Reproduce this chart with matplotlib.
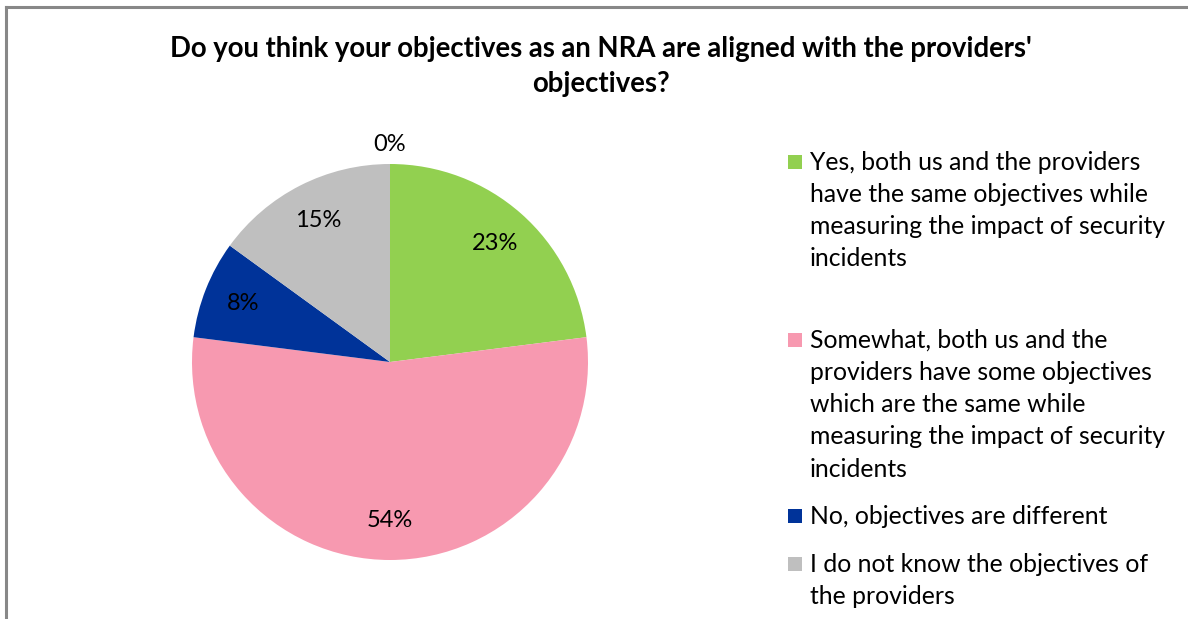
"""Pie chart: alignment of NRA objectives with the providers' objectives."""

import matplotlib
matplotlib.use("Agg")
import matplotlib.pyplot as plt
from matplotlib.patches import Rectangle
import numpy as np

TITLE = "Do you think your objectives as an NRA are aligned with the providers'\nobjectives?"
LABELS = [
    "Yes, both us and the providers\nhave the same objectives while\nmeasuring the impact of security\nincidents",
    "Somewhat, both us and the\nproviders have some objectives\nwhich are the same while\nmeasuring the impact of security\nincidents",
    "No, objectives are different",
    "I do not know the objectives of\nthe providers",
]
SHARES = [23, 54, 8, 15, 0]  # percent; last one has no respondents
COLORS = ["#92D050", "#F799B0", "#003399", "#BFBFBF", "#FFFFFF"]

plt.rcParams["font.family"] = ["Lato", "DejaVu Sans"]

W, H = 1188, 619
fig = plt.figure(figsize=(W / 100, H / 100), dpi=100)

# chart frame (runs off the right and bottom edges)
fig.add_artist(plt.Line2D([6 / W, 6 / W], [0, 1 - 6.5 / H], color="#888888", lw=2.2))
fig.add_artist(plt.Line2D([6 / W, 1], [1 - 6.5 / H, 1 - 6.5 / H], color="#888888", lw=2.2))

fig.text(601 / W, 1 - 66.5 / H, TITLE, ha="center", va="center", fontsize=19.8,
         fontweight="bold", linespacing=1.4)

# pie: centre (390, 362) px, radius 198 px
cx, cy, r = 390, 362, 198
ax = fig.add_axes([(cx - r) / W, 1 - (cy + r) / H, 2 * r / W, 2 * r / H])
wedges, _ = ax.pie(SHARES, colors=COLORS, startangle=90, counterclock=False,
                   radius=1.0, wedgeprops=dict(linewidth=0))
ax.set_xlim(-1, 1)
ax.set_ylim(-1, 1)
ax.set_aspect("equal")
ax.axis("off")

for w, v in zip(wedges, SHARES):
    mid = np.deg2rad((w.theta1 + w.theta2) / 2)
    d = 0.8 if v > 0 else 1.1
    ax.text(d * np.cos(mid), d * np.sin(mid), f"{v}%", ha="center", va="center",
            fontsize=17, color="black", clip_on=False)

# legend drawn entry by entry
entry_tops = [162, 340, 516, 564]
line_h = 32.3
for lab, col, y0 in zip(LABELS, COLORS, entry_tops):
    fig.add_artist(Rectangle((788 / W, 1 - (y0 + 7) / H), 14 / W, 14 / H,
                             transform=fig.transFigure, facecolor=col, edgecolor="none"))
    for i, line in enumerate(lab.split("\n")):
        fig.text(810 / W, 1 - (y0 + i * line_h) / H, line, ha="left", va="center",
                 fontsize=17.8)

fig.savefig("out.png", dpi=100)
plt.close(fig)
